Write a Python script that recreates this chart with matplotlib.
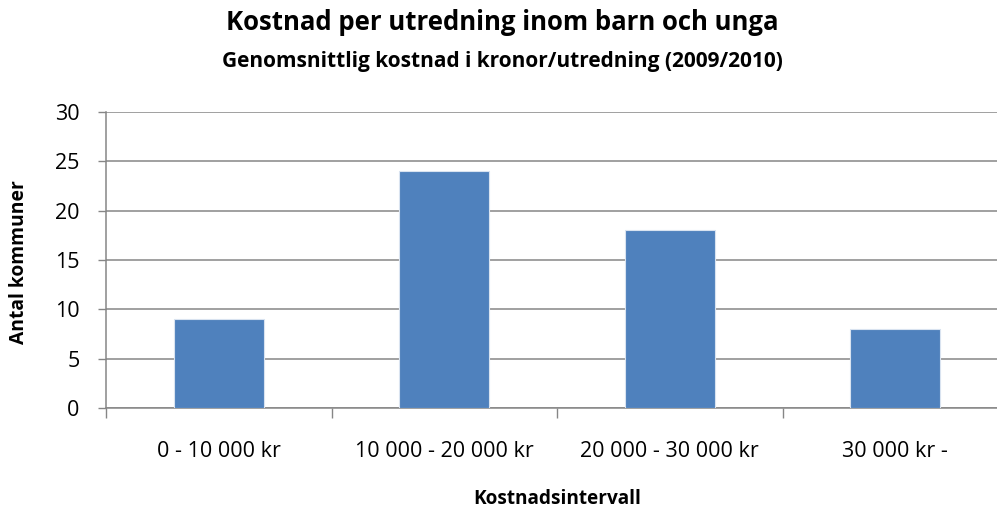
import matplotlib
matplotlib.use("Agg")
import matplotlib.pyplot as plt

categories = ["0 - 10 000 kr", "10 000 - 20 000 kr", "20 000 - 30 000 kr", "30 000 kr -"]
values = [9, 24, 18, 8]
yticks = [0, 5, 10, 15, 20, 25, 30]

title = "Kostnad per utredning inom barn och unga"
subtitle = "Genomsnittlig kostnad i kronor/utredning (2009/2010)"
xlabel = "Kostnadsintervall"
ylabel = "Antal kommuner"

plt.rcParams['font.family'] = ['Open Sans', 'DejaVu Sans']

W, H = 997, 511
fig = plt.figure(figsize=(W / 100, H / 100), dpi=100)
left, right, top, bottom = 106, 1008, 112, 408
ax = fig.add_axes([left / W, 1 - bottom / H, (right - left) / W, (bottom - top) / H])

x = list(range(len(categories)))
ax.bar(x, values, width=0.4, color="#4F81BD", edgecolor="#D9E3F0", linewidth=0.8, zorder=3)

ax.set_xlim(-0.5, len(categories) - 0.5)
ax.set_ylim(0, 30)
ax.set_yticks(yticks)
ax.set_yticklabels([str(t) for t in yticks], fontsize=15.5)
ax.set_xticks([i - 0.5 for i in range(len(categories) + 1)])
ax.set_xticklabels([])
ax.set_xticks(x, minor=True)
ax.set_xticklabels(categories, minor=True, fontsize=15.5)
ax.tick_params(axis='x', which='minor', length=0, pad=24)
ax.tick_params(axis='x', which='major', length=7, width=1, color="#868686")
ax.tick_params(axis='y', length=6, width=1, color="#868686", pad=13)

ax.grid(axis='y', color="#868686", linewidth=1.1, zorder=0)
for s in ["top", "right"]:
    ax.spines[s].set_visible(False)
for s in ["left", "bottom"]:
    ax.spines[s].set_color("#868686")
    ax.spines[s].set_linewidth(1.1)

fig.text(502 / W, 1 - 22 / H, title, ha='center', va='center', fontsize=18.5, fontweight='bold')
fig.text(502 / W, 1 - 62 / H, subtitle, ha='center', va='center', fontsize=15, fontweight='bold')
fig.text(557 / W, 1 - 499 / H, xlabel, ha='center', va='center', fontsize=13.7, fontweight='bold')
fig.text(19 / W, 1 - 262 / H, ylabel, ha='center', va='center', rotation=90, fontsize=13.9, fontweight='bold')

fig.savefig("out.png", dpi=100)
